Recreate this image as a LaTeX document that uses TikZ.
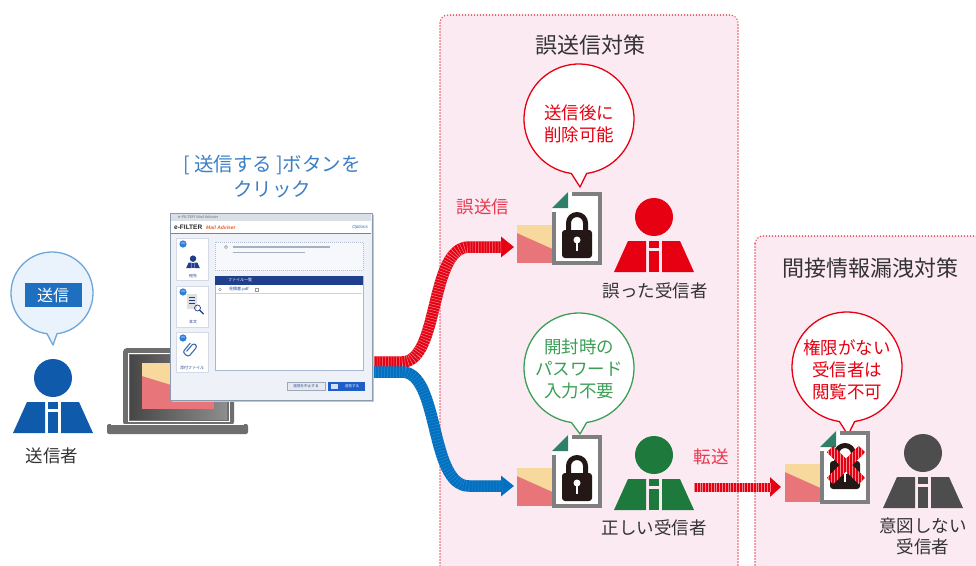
\documentclass[tikz,border=0pt]{standalone}
\usepackage{fontspec}
\setmainfont{Noto Sans CJK JP}
\newfontfamily\latinsans{Liberation Sans}
\usetikzlibrary{arrows.meta,calc,patterns}

\definecolor{secbg}{HTML}{FCEAF3}
\definecolor{secline}{HTML}{E94B5B}
\definecolor{jred}{HTML}{E60012}
\definecolor{stripered}{HTML}{F0868D}
\definecolor{lblred}{HTML}{E8384F}
\definecolor{jgreen}{HTML}{1E7A3C}
\definecolor{bgreen}{HTML}{3A9F55}
\definecolor{jgray}{HTML}{4D4D4D}
\definecolor{jblue}{HTML}{0F5AAA}
\definecolor{tagblue}{HTML}{1E6FBF}
\definecolor{sbline}{HTML}{6EA6DA}
\definecolor{sbfill}{HTML}{EAF3FB}
\definecolor{txtblue}{HTML}{3B7FC4}
\definecolor{dark}{HTML}{333333}
\definecolor{envpink}{HTML}{E8757A}
\definecolor{envyel}{HTML}{F7D99E}
\definecolor{foldgreen}{HTML}{2E8068}
\definecolor{docgray}{HTML}{7F7F7F}
\definecolor{lockblk}{HTML}{231815}
\definecolor{bandblue}{HTML}{0070C0}
\definecolor{stripeblue}{HTML}{2C86CC}
\definecolor{navy}{HTML}{1F3E8C}
\definecolor{lapgray}{HTML}{6E6E6E}
\definecolor{scrdark}{HTML}{474747}
\definecolor{scrlight}{HTML}{8E8E8E}
\definecolor{winframe}{HTML}{8C9AAE}
\definecolor{winbg}{HTML}{EEF2F8}
\definecolor{titlebar}{HTML}{D9DFE7}
\definecolor{mailorange}{HTML}{E8602C}
\definecolor{optblue}{HTML}{2F6DB5}
\definecolor{cardline}{HTML}{D3DAE5}
\definecolor{onblue}{HTML}{2F7FD8}
\definecolor{infoline}{HTML}{B3C0D6}
\definecolor{infobg}{HTML}{F6F8FC}
\definecolor{textgray}{HTML}{A7B0C0}
\definecolor{listline}{HTML}{A8B8D0}
\definecolor{btnline}{HTML}{A0A8B8}
\definecolor{btnbg}{HTML}{E6EAF0}
\definecolor{sendblue}{HTML}{1D5EC8}
\definecolor{clipblue}{HTML}{3E6DB5}

\tikzset{
  sect/.style={fill=secbg, draw=secline, line width=1.6pt, dash pattern=on 0pt off 3pt,
    line cap=round, rounded corners=8pt},
  sectitle/.style={font=\fontsize{22}{26}\selectfont, text=dark, inner sep=0pt},
  lbl/.style={font=\fontsize{17.5}{21}\selectfont, text=dark, align=center, inner sep=0pt},
  sidelbl/.style={font=\fontsize{17.5}{21}\selectfont, text=lblred, inner sep=0pt},
  bubtxt/.style={font=\fontsize{17.5}{22}\selectfont, align=center, inner sep=0pt},
  bubred/.style={draw=jred, fill=white, line width=1.3pt, line join=round},
  bubgreen/.style={draw=bgreen, fill=white, line width=1.3pt, line join=round},
  bubblue/.style={draw=sbline, fill=sbfill, line width=1.3pt, line join=round},
  redband/.style={draw=jred, line width=#1,
    postaction={draw=stripered, arrows=-, line width=#1, dash pattern=on 0.5pt off 2.3pt, shorten >=11pt}},
  blueband/.style={draw=bandblue, line width=#1,
    postaction={draw=stripeblue, arrows=-, line width=#1, dash pattern=on 0.5pt off 2.5pt, shorten >=11pt}},
  tiny/.style={font=\fontsize{4}{4.5}\selectfont, inner sep=0pt},
  pics/person/.style={code={
    \fill[#1] (0,-55) circle[radius=19];
    \fill[#1] (-40,0) -- (-26,-31) -- (-8,-31) -- (-8,0) -- cycle;
    \fill[#1] (40,0) -- (26,-31) -- (8,-31) -- (8,0) -- cycle;
    \fill[#1] (-5,-31) rectangle (5,-24);
    \fill[#1] (-5,-21) rectangle (5,0);
  }},
  pics/docicon/.style={code={
    \fill[envpink] (-35,33) rectangle (3,71);
    \fill[envyel] (-35,33) -- (3,33) -- (3,58) -- (-35,41) -- cycle;
    \fill[white] (0,16) -- (16,0) -- (50,0) -- (50,73) -- (0,73) -- cycle;
    \draw[docgray, line width=4pt] (20,2) -- (48,2) -- (48,71) -- (2,71) -- (2,20);
    \fill[foldgreen] (0,16) -- (16,16) -- (16,0) -- cycle;
  }},
  pics/lock/.style={code={
    \draw[lockblk, line width=5pt] (16.5,40) -- (16.5,31) arc[start angle=180, end angle=360, radius=8.5] -- (33.5,40);
    \fill[lockblk, rounded corners=3pt] (10,38) rectangle (40,66);
    \fill[white] (25,48) circle[radius=3.5];
    \fill[white] (23.6,49) rectangle (26.4,59);
  }},
}

\begin{document}
\begin{tikzpicture}[x=1pt,y=-1pt]
\clip (0,0) rectangle (976,565);
\fill[white] (0,0) rectangle (976,565);

% ---- countermeasure panels
\draw[sect] (440,15) rectangle (738,600);
\draw[sect] (755,236) rectangle (1000,600);
\node[sectitle] (t1) at (590,45) {誤送信対策};
\node[sectitle] (t2) at (870,268) {間接情報漏洩対策};

% ---- sender
\coordinate (sbc) at (52,293);
\coordinate (sbtip) at (53,345);
\draw[bubblue] ($(sbc)+(97:41)$) arc[start angle=97, end angle=443, radius=41] -- (sbtip) -- cycle;
\node[fill=tagblue, text=white, minimum width=57pt, minimum height=24pt, inner sep=0pt,
      font=\fontsize{16}{18}\selectfont] (sendtag) at (53,295) {送信};
\pic at (53,433) {person=jblue};
\node[lbl] (sender) at (52,456) {送信者};

% ---- laptop
\fill[lapgray, rounded corners=4pt] (123,348) rectangle (234,426);
\draw[white, line width=1pt] (128,353) rectangle (229,421);
\shade[left color=scrdark, right color=scrlight] (130,355) rectangle (227,419);
\fill[envpink] (142,363) rectangle (214,409);
\fill[envyel] (142,363) -- (214,363) -- (214,398) -- (142,376) -- cycle;
\fill[lapgray, rounded corners=2pt] (107,424) rectangle (248,434);
\draw[white, line width=1pt] (111,424.8) -- (244,424.8);

% ---- instruction above the window
\node[font=\fontsize{19.5}{25}\selectfont, text=txtblue, align=center, inner sep=0pt] (click) at (272,177)
  {[ 送信する ]ボタンを\\クリック};

% ---- delivery paths
\coordinate (rs) at (360,362);
\coordinate (r1) at (402,362);
\coordinate (r2) at (469,247);
\coordinate (rt) at (514,247);
\coordinate (bs) at (360,372);
\coordinate (b1) at (402,372);
\coordinate (b2) at (469,486);
\coordinate (bt) at (514,486);
\draw[redband=11.5pt, -{Triangle[length=13pt,width=20pt]}]
  (rs) -- (r1) .. controls +(38,0) and +(-40,0) .. (r2) -- (rt);
\draw[blueband=11.5pt, -{Triangle[length=13pt,width=20pt]}]
  (bs) -- (b1) .. controls +(38,0) and +(-40,0) .. (b2) -- (bt);

% ---- mail client window
\fill[black!22] (172,215) rectangle (374,402);
\node[draw=winframe, fill=winbg, line width=0.8pt, minimum width=202pt, minimum height=187pt,
      inner sep=0pt, anchor=north west] (win) at (170,213) {};
\fill[titlebar] (171,214) rectangle (371,221);
\node[tiny, text=black!55, anchor=west] (wtitle) at (178,217.5) {\latinsans e-FILTER Mail Adviser};
\fill[white] (171,221) rectangle (371,233);
\node[anchor=west, inner sep=0pt, font=\latinsans\fontsize{6.5}{7}\selectfont\bfseries, text=black!85] (brand) at (174,227) {e-FILTER};
\node[anchor=west, inner sep=0pt, font=\latinsans\fontsize{5}{6}\selectfont\itshape\bfseries, text=mailorange] (prod) at (206,227.5) {Mail Adviser};
\node[anchor=east, inner sep=0pt, font=\latinsans\fontsize{4.5}{5}\selectfont\itshape, text=optblue] (opts) at (368,227) {Options};
\draw[mailorange, line width=1pt] (171,233.5) -- (371,233.5);

% left side cards
\draw[cardline, fill=white] (176,238) rectangle (208,280);
\draw[cardline, fill=white] (176,286) rectangle (208,327);
\draw[cardline, fill=white] (176,332) rectangle (208,372);
\fill[onblue] (183,244) circle[radius=3.6];
\fill[onblue] (183,292) circle[radius=3.6];
\fill[onblue] (183,338) circle[radius=3.6];
\node[font=\latinsans\fontsize{2.6}{3}\selectfont, text=white, inner sep=0pt] (on1) at (183,244) {ON};
\node[font=\latinsans\fontsize{2.6}{3}\selectfont, text=white, inner sep=0pt] (on2) at (183,292) {ON};
\node[font=\latinsans\fontsize{2.6}{3}\selectfont, text=white, inner sep=0pt] (on3) at (183,338) {ON};
\pic[scale=0.17] at (193,268) {person=navy};
\node[tiny, text=navy] (lto) at (193,275.5) {宛先};
\fill[black!12] (187,294) rectangle (197,309);
\draw[navy, line width=0.9pt] (189,297) -- (195,297) (189,300) -- (195,300) (189,303) -- (195,303);
\draw[navy, line width=0.7pt] (197.5,308) circle[radius=3];
\draw[navy, line width=1.3pt, line cap=round] (199.7,310.2) -- (203.5,314);
\node[tiny, text=navy] (lbody) at (193,322) {本文};
\draw[clipblue, line width=1.1pt, rounded corners=2.5pt, rotate around={-40:(191,350)}]
  (188.5,354) -- (188.5,343) -- (193.5,343) -- (193.5,357) -- (186,357) -- (186,345);
\node[tiny, text=navy] (latt) at (192,368) {添付ファイル};

% message area
\draw[infoline, dash pattern=on 1pt off 1pt, fill=infobg] (215,242) rectangle (363,270);
\draw[black!45, line width=0.5pt] (226,247) circle[radius=1.6];
\draw[textgray, line width=1.3pt] (233,247) -- (330,247);
\draw[textgray, line width=1.3pt] (233,252.5) -- (305,252.5);
\draw[listline, fill=white] (215,276) rectangle (363,370);
\fill[navy] (215,276) rectangle (363,284.5);
\node[tiny, text=white, anchor=west] (lhead) at (228,280.3) {ファイル一覧};
\draw[black!45, line width=0.4pt] (220,289.5) circle[radius=1.4];
\node[tiny, text=navy, anchor=west] (lfile) at (229,289.5) {見積書.pdf};
\draw[black!40, line width=0.4pt] (255,288) rectangle (258,291);
\draw[listline!60, line width=0.4pt] (216,293.5) -- (362,293.5);

% buttons
\draw[btnline, fill=btnbg] (287,382) rectangle (325,390.5);
\node[font=\fontsize{3.6}{4}\selectfont, text=navy, inner sep=0pt] (bcancel) at (306,386.2) {送信を中止する};
\fill[sendblue] (328,382) rectangle (365,390.5);
\fill[white!80!sendblue] (331,384) rectangle (338,388.5);
\node[font=\fontsize{3.6}{4}\selectfont, text=white, inner sep=0pt] (bsend) at (352,386.2) {送信する};

% ---- wrong recipient (delete after sending)
\coordinate (rbc) at (579,119);
\coordinate (rbtip) at (580,187);
\draw[bubred] ($(rbc)+(98:55)$) arc[start angle=98, end angle=442, radius=55] -- (rbtip) -- cycle;
\node[bubtxt, text=jred] (rbtext) at (579,124) {送信後に\\削除可能};
\node[sidelbl] (mis) at (483,207) {誤送信};
\pic at (552,192) {docicon};
\pic at (552,192) {lock};
\pic at (654,272) {person=jred};
\node[lbl] (wrong) at (655,291) {誤った受信者};

% ---- correct recipient (no password needed)
\coordinate (gbc) at (579,368);
\coordinate (gbtip) at (580,434);
\draw[bubgreen] ($(gbc)+(98:55)$) arc[start angle=98, end angle=442, radius=55] -- (gbtip) -- cycle;
\node[bubtxt, text=bgreen] (gbtext) at (579,369) {開封時の\\パスワード\\入力不要};
\pic at (552,435) {docicon};
\pic at (552,435) {lock};
\pic at (654,510) {person=jgreen};
\node[lbl] (right) at (654,528) {正しい受信者};

% ---- forwarding
\node[sidelbl] (fwd) at (711,457) {転送};
\coordinate (fs) at (694,487);
\coordinate (ft) at (781,487);
\draw[redband=9pt, -{Triangle[length=11pt,width=19pt]}] (fs) -- (ft);

% ---- unintended recipient (no viewing right)
\coordinate (xbc) at (847,367);
\coordinate (xbtip) at (848,435);
\draw[bubred] ($(xbc)+(98:55)$) arc[start angle=98, end angle=442, radius=55] -- (xbtip) -- cycle;
\node[bubtxt, text=jred] (xbtext) at (847,370) {権限がない\\受信者は\\閲覧不可};
\pic at (820,431) {docicon};
\pic at (820,423) {lock};
\fill[jred, rotate around={45:(846,465)}] (823.5,460.5) rectangle (868.5,469.5);
\fill[jred, rotate around={-45:(846,465)}] (823.5,460.5) rectangle (868.5,469.5);
\fill[pattern=vertical lines, pattern color=white!55!jred, rotate around={45:(846,465)}] (823.5,460.5) rectangle (868.5,469.5);
\fill[pattern=vertical lines, pattern color=white!55!jred, rotate around={-45:(846,465)}] (823.5,460.5) rectangle (868.5,469.5);
\pic at (923,508) {person=jgray};
\node[lbl] (unint) at (923,536) {意図しない\\受信者};
\end{tikzpicture}
\end{document}
